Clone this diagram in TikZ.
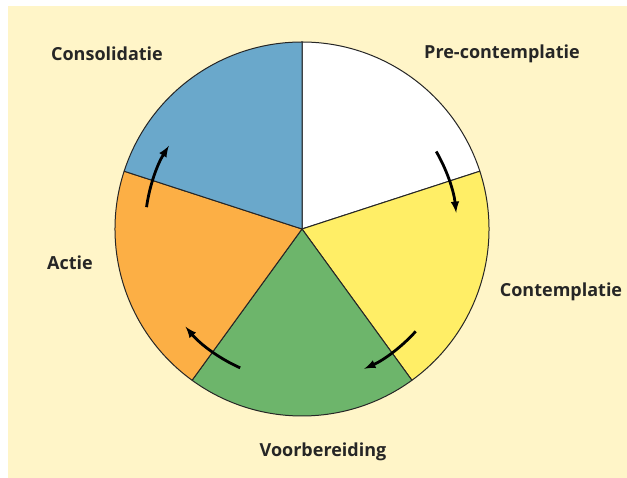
\documentclass[tikz,border=0pt]{standalone}
\usepackage{fontspec}
\setmainfont{Open Sans}
\usetikzlibrary{positioning}
\definecolor{paper}{HTML}{FFF5C8}
\definecolor{stageyellow}{HTML}{FFEE66}
\definecolor{stagegreen}{HTML}{6DB56B}
\definecolor{stageorange}{HTML}{FCAF45}
\definecolor{stageblue}{HTML}{6AA8CB}

\begin{document}
\begin{tikzpicture}[x=1pt,y=1pt,
  slice/.style={draw=black!85, line width=1pt, line join=round},
  stage/.style={font=\bfseries\fontsize{18}{21}\selectfont, text=black!85},
  turn/.style={line width=2.8pt, -latex}]
\useasboundingbox (0,0) rectangle (627,478);
\fill[white] (0,0) rectangle (627,478);
\fill[paper] (8,0) rectangle (627,472);
\coordinate (c) at (302,249);
\def\pierad{187}
\filldraw[slice, fill=white] (c) -- ++(90:\pierad) arc (90:18:\pierad) -- cycle;
\filldraw[slice, fill=stageyellow] (c) -- ++(18:\pierad) arc (18:-54:\pierad) -- cycle;
\filldraw[slice, fill=stagegreen] (c) -- ++(-54:\pierad) arc (-54:-126:\pierad) -- cycle;
\filldraw[slice, fill=stageorange] (c) -- ++(-126:\pierad) arc (-126:-198:\pierad) -- cycle;
\filldraw[slice, fill=stageblue] (c) -- ++(162:\pierad) arc (162:90:\pierad) -- cycle;
\draw[turn] (c) ++(30:155) arc (30:6:155);
\draw[turn] (c) ++(-42:153) arc (-42:-66:153);
\draw[turn] (c) ++(-114:152) arc (-114:-140:152);
\draw[turn] (c) ++(172:157) arc (172:148:157);
\node[stage] (precontemplatie) at (502,424) {Pre-contemplatie};
\node[stage] (contemplatie) at (561,186) {Contemplatie};
\node[stage] (voorbereiding) at (323,26) {Voorbereiding};
\node[stage] (actie) at (70,215) {Actie};
\node[stage] (consolidatie) at (107,424) {Consolidatie};
\end{tikzpicture}
\end{document}
